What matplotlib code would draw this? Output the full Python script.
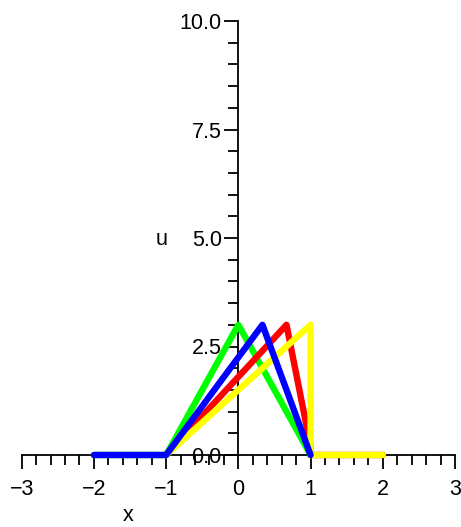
import matplotlib
matplotlib.use('Agg')
import matplotlib.pyplot as plt
from matplotlib.ticker import MultipleLocator

plt.rcParams['font.family'] = ['Liberation Sans', 'DejaVu Sans']

# profiles u(x) at successive times
x_t0 = [-2, -1, 0, 1]
u_t0 = [0, 0, 3, 0]
x_t1 = [-2, -1, 1/3, 1]
u_t1 = [0, 0, 3, 0]
x_t2 = [-1, 2/3, 1, 1, 2]
u_t2 = [0, 3, 0.2, 0, 0]
x_t3 = [-1, 1, 1, 2]
u_t3 = [0, 3, 0, 0]

fig = plt.figure(figsize=(4.61, 5.27), dpi=100)
ax = fig.add_axes([21.7/461, 72/527, 433.3/461, 434/527])

lw = 4.6
ax.plot(x_t0, u_t0, color='#00ff00', lw=lw, solid_capstyle='round', clip_on=False, zorder=3)
ax.plot(x_t2, u_t2, color='#ff0000', lw=lw, solid_capstyle='round', clip_on=False, zorder=4)
ax.plot(x_t3, u_t3, color='#ffff00', lw=lw, solid_capstyle='round', clip_on=False, zorder=5)
ax.plot(x_t1, u_t1, color='#0000ff', lw=lw, solid_capstyle='round', clip_on=False, zorder=6)

ax.set_xlim(-3, 3)
ax.set_ylim(0, 10)

for s in ['top', 'right']:
    ax.spines[s].set_visible(False)
ax.spines['left'].set_position(('data', 0))
ax.spines['bottom'].set_position(('data', 0))
for s in ['left', 'bottom']:
    ax.spines[s].set_zorder(1)
    ax.spines[s].set_linewidth(1.3)

ax.xaxis.set_major_locator(MultipleLocator(1))
ax.xaxis.set_minor_locator(MultipleLocator(0.2))
ax.yaxis.set_major_locator(MultipleLocator(2.5))
ax.yaxis.set_minor_locator(MultipleLocator(0.5))
ax.yaxis.set_major_formatter(lambda v, p: f'{v:.1f}')

fs = 15.5
ax.tick_params(axis='both', which='major', direction='out', length=10, width=1.3, labelsize=fs)
ax.tick_params(axis='both', which='minor', direction='out', length=7.5, width=1.3)
ax.tick_params(axis='x', pad=7)
ax.tick_params(axis='y', pad=2)

fig.text(162/461, 1 - 240/527, 'u', fontsize=fs, ha='center', va='center')
fig.text(128/461, 1 - 521/527, 'x', fontsize=fs, ha='center', va='baseline')

fig.savefig('out.png', dpi=100)
